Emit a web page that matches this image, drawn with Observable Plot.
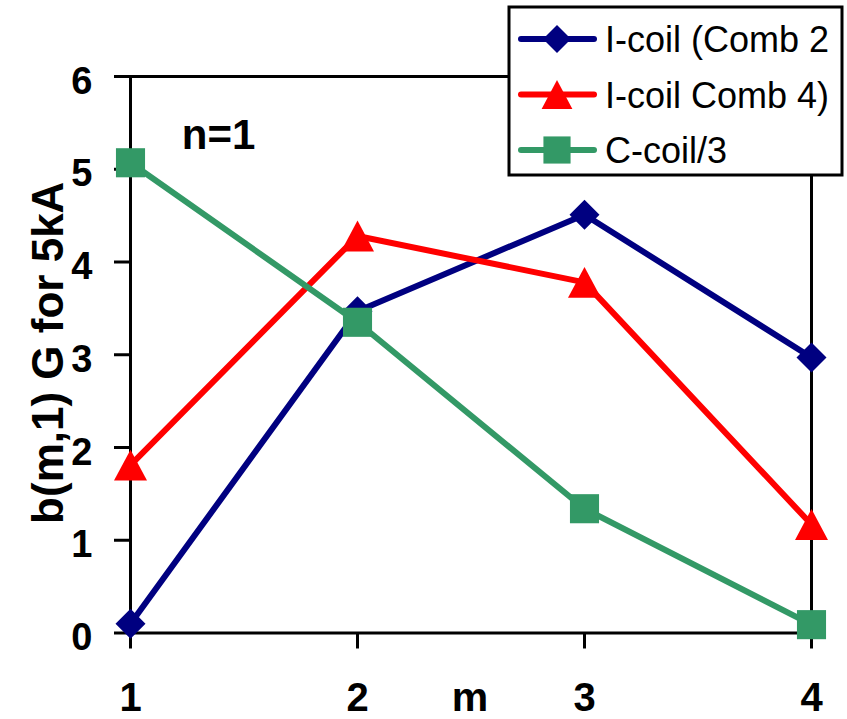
<!DOCTYPE html>
<html>
<head>
<meta charset="utf-8">
<script src="https://cdn.jsdelivr.net/npm/d3@7"></script>
<script src="https://cdn.jsdelivr.net/npm/@observablehq/plot@0.6"></script>
<style>
  html, body { margin: 0; padding: 0; background: #fff; overflow: hidden; }
</style>
</head>
<body>
<div id="chart"></div>
<script>
// ---- data ----
const mValues = [1, 2, 3, 4];
const comb2 = [0.1, 3.47, 4.51, 2.97];
const comb4 = [1.81, 4.28, 3.78, 1.17];
const ccoil = [5.07, 3.35, 1.34, 0.09];
const seriesNames = ["I-coil (Comb 2", "I-coil Comb 4)", "C-coil/3"];
const seriesColors = ["#000080", "#FF0000", "#339966"];
const yTicks = [0, 1, 2, 3, 4, 5, 6];
const xTicks = [1, 2, 3, 4];
const yTitle = "b(m,1) G for 5kA";
const xTitle = "m";
const note = "n=1";

const FONT = "'Liberation Sans', Arial, Helvetica, sans-serif";

// custom marker symbols (Excel-like)
const diamondSym = {draw(ctx, size) { const r = Math.sqrt(size / Math.PI);
  ctx.moveTo(0, -r); ctx.lineTo(r, 0); ctx.lineTo(0, r); ctx.lineTo(-r, 0); ctx.closePath(); }};
const triangleSym = {draw(ctx, size) { const r = Math.sqrt(size / Math.PI);
  ctx.moveTo(0, -r * 1.03); ctx.lineTo(r * 1.1, r * 1.03); ctx.lineTo(-r * 1.1, r * 1.03); ctx.closePath(); }};
const squareSym = {draw(ctx, size) { const r = Math.sqrt(size / Math.PI) * 0.97;
  ctx.rect(-r, -r, 2 * r, 2 * r); }};
const symbols = [diamondSym, triangleSym, squareSym];

const seriesValues = [comb2, comb4, ccoil];
const rows = [];
seriesValues.forEach((vals, k) => mValues.forEach((mv, i) => rows.push({series: seriesNames[k], k, m: mv, b: vals[i]})));

const seriesMarks = seriesValues.flatMap((vals, k) => {
  const d = rows.filter(r => r.k === k);
  return [
    Plot.line(d, {x: "m", y: "b", stroke: seriesColors[k], strokeWidth: 6, strokeLinejoin: "round"}),
    Plot.dot(d, {x: "m", y: "b", symbol: symbols[k], r: 15, fill: seriesColors[k], stroke: "none"})
  ];
});

const chart = Plot.plot({
  width: 847,
  height: 719,
  marginLeft: 130,
  marginRight: 36,
  marginTop: 76,
  marginBottom: 86.5,
  style: {fontFamily: FONT, background: "#fff", color: "#000"},
  x: {type: "linear", domain: [1, 4]},
  y: {type: "linear", domain: [0, 6]},
  marks: [
    // frame lines
    Plot.ruleY([6], {stroke: "#000", strokeWidth: 3}),
    Plot.ruleX([4], {stroke: "#000", strokeWidth: 3}),
    Plot.ruleX([1], {stroke: "#000", strokeWidth: 3}),
    Plot.ruleY([0], {stroke: "#000", strokeWidth: 3}),
    // axes: ticks
    Plot.axisY({ticks: yTicks, tickSize: 16, strokeWidth: 3, stroke: "#000", fill: "none", label: null}),
    Plot.axisX({ticks: xTicks, tickSize: 16, strokeWidth: 3, stroke: "#000", fill: "none", label: null}),
    // axes: labels
    Plot.axisY({ticks: yTicks, tickSize: 16, tickPadding: 22, stroke: "none", fill: "#000",
      fontSize: 38, fontWeight: "bold", dy: 5, label: null, tickFormat: d => String(d)}),
    Plot.axisX({ticks: xTicks, tickSize: 16, tickPadding: 34, stroke: "none", fill: "#000",
      fontSize: 40, fontWeight: "bold", label: null, tickFormat: d => String(d)}),
    // titles / annotation
    Plot.text([yTitle], {frameAnchor: "left", rotate: -90, text: d => d, fontSize: 44, fontWeight: "bold",
      fill: "#000", textAnchor: "middle", lineAnchor: "middle", dx: -82, dy: -2}),
    Plot.text([xTitle], {frameAnchor: "bottom", text: d => d, fontSize: 41, fontWeight: "bold",
      fill: "#000", textAnchor: "middle", lineAnchor: "middle", dx: -1, dy: 64.5}),
    Plot.text([note], {frameAnchor: "top-left", text: d => d, fontSize: 42, fontWeight: "bold",
      fill: "#000", textAnchor: "middle", lineAnchor: "middle", dx: 88, dy: 58.6}),
    ...seriesMarks
  ]
});

document.getElementById("chart").appendChild(chart);

// ---- legend (drawn on top of the frame, like Excel) ----
const svg = d3.select(chart);
const lg = svg.append("g").attr("class", "legend").attr("text-anchor", "start");
lg.append("rect").attr("x", 509).attr("y", 7).attr("width", 333).attr("height", 168)
  .attr("fill", "#fff").attr("stroke", "#000").attr("stroke-width", 3);
seriesNames.forEach((name, k) => {
  const cy = 39 + 55.5 * k;
  lg.append("line").attr("x1", 521).attr("x2", 594).attr("y1", cy).attr("y2", cy)
    .attr("stroke", seriesColors[k]).attr("stroke-width", 6).attr("stroke-linecap", "round");
  lg.append("path").attr("transform", `translate(557,${cy})`)
    .attr("d", d3.symbol(symbols[k], Math.PI * 14 * 14)())
    .attr("fill", seriesColors[k]);
  lg.append("text").attr("x", 605).attr("y", cy + 13)
    .attr("text-anchor", "start")
    .attr("font-family", FONT).attr("font-size", 36).attr("fill", "#000")
    .text(name);
});
</script>
</body>
</html>
